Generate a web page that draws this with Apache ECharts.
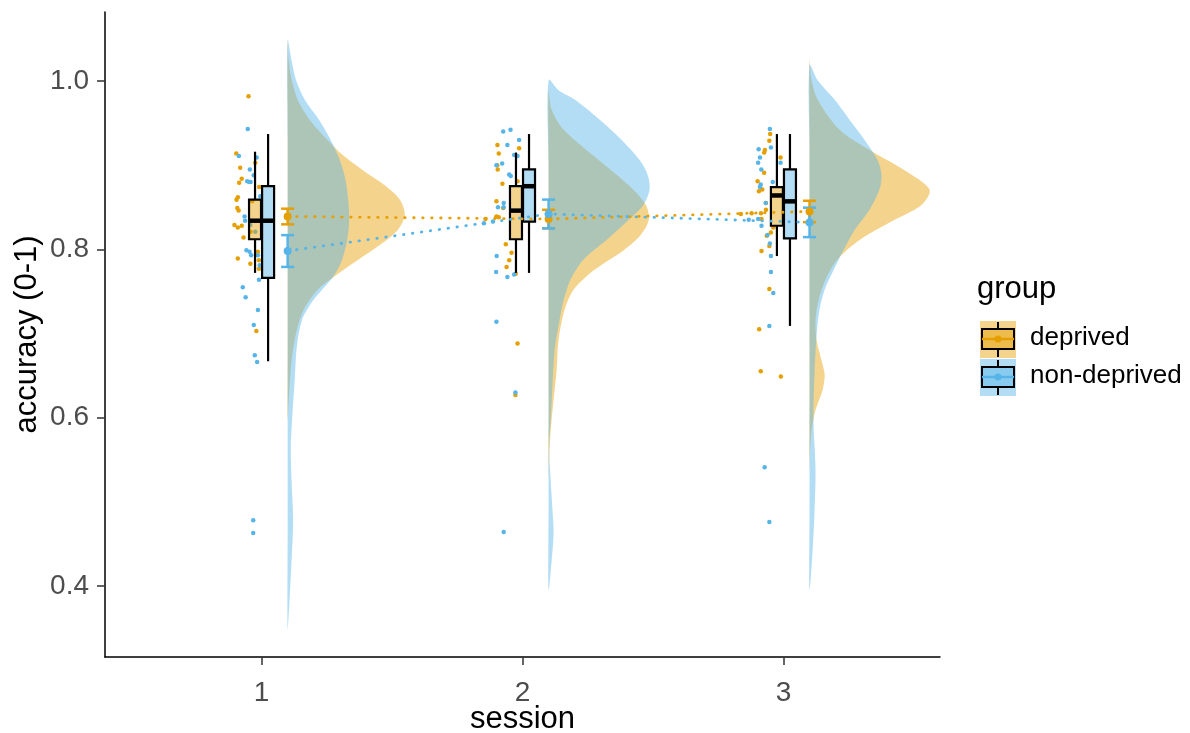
<!DOCTYPE html>
<html>
<head>
<meta charset="utf-8">
<script src="https://cdn.jsdelivr.net/npm/echarts@6/dist/echarts.min.js"></script>
<style>
html, body { margin: 0; padding: 0; background: #fff; }
#chart { width: 1190px; height: 733px; }
</style>
</head>
<body>
<div id="chart"></div>
<script>
const sessions = [1, 2, 3];
const groups = ['deprived', 'non-deprived'];
const groupColors = ['#E69F00', '#56B4E9'];
const groupFills = ['rgba(230,159,0,0.45)', 'rgba(86,180,233,0.45)'];
const yTicks = [0.4, 0.6, 0.8, 1.0];
const xTicks = [1, 2, 3];

// raw points: [jitter offset from session, accuracy]
const deprivedS1 = [[-0.050,0.982],[-0.097,0.914],[-0.082,0.897],[-0.024,0.903],[-0.086,0.879],[-0.076,0.884],[-0.009,0.874],[-0.091,0.862],[-0.096,0.859],[-0.093,0.849],[-0.088,0.846],[-0.036,0.857],[-0.104,0.829],[-0.091,0.826],[-0.076,0.828],[-0.069,0.814],[-0.042,0.821],[-0.091,0.789],[-0.043,0.783],[-0.010,0.787],[-0.010,0.777],[-0.014,0.797],[-0.020,0.703]];
const deprivedS2 = [[-0.096,0.924],[-0.013,0.920],[-0.091,0.914],[-0.097,0.900],[-0.095,0.895],[-0.077,0.878],[-0.019,0.881],[-0.100,0.857],[-0.074,0.849],[-0.100,0.839],[-0.091,0.838],[-0.142,0.836],[-0.064,0.806],[-0.042,0.796],[-0.051,0.787],[-0.061,0.779],[-0.026,0.771],[-0.019,0.688],[-0.027,0.627]];
const deprivedS3 = [[-0.051,0.937],[-0.054,0.929],[-0.071,0.918],[-0.074,0.915],[-0.011,0.909],[-0.074,0.891],[-0.099,0.881],[-0.081,0.871],[-0.094,0.869],[-0.067,0.855],[-0.067,0.847],[-0.122,0.843],[-0.163,0.842],[-0.086,0.843],[-0.084,0.836],[-0.039,0.826],[-0.048,0.820],[-0.064,0.816],[-0.054,0.804],[-0.084,0.798],[-0.054,0.753],[-0.093,0.705],[-0.087,0.655],[-0.010,0.649]];
const nonDeprivedS1 = [[-0.053,0.943],[-0.087,0.911],[-0.019,0.909],[-0.045,0.895],[-0.055,0.881],[-0.047,0.880],[-0.042,0.880],[-0.030,0.888],[-0.005,0.863],[-0.065,0.839],[-0.063,0.834],[-0.043,0.829],[-0.024,0.821],[-0.058,0.799],[-0.046,0.797],[-0.040,0.793],[-0.014,0.793],[-0.007,0.781],[-0.010,0.764],[-0.072,0.755],[-0.061,0.743],[-0.014,0.728],[-0.030,0.710],[-0.026,0.674],[-0.017,0.666],[-0.032,0.478],[-0.032,0.463]];
const nonDeprivedS2 = [[-0.074,0.940],[-0.046,0.942],[-0.058,0.924],[-0.013,0.930],[-0.032,0.912],[-0.019,0.911],[-0.100,0.900],[-0.078,0.902],[-0.051,0.889],[-0.045,0.887],[-0.072,0.855],[-0.094,0.850],[-0.072,0.850],[-0.148,0.831],[-0.113,0.833],[-0.099,0.792],[-0.101,0.773],[-0.058,0.767],[-0.032,0.770],[-0.100,0.714],[-0.027,0.630],[-0.072,0.464]];
const nonDeprivedS3 = [[-0.052,0.943],[-0.095,0.919],[-0.048,0.921],[-0.090,0.909],[-0.097,0.903],[-0.011,0.903],[-0.085,0.895],[-0.041,0.880],[-0.087,0.877],[-0.090,0.874],[-0.068,0.855],[-0.097,0.836],[-0.133,0.835],[-0.084,0.828],[-0.061,0.817],[-0.052,0.807],[-0.048,0.792],[-0.048,0.773],[-0.039,0.748],[-0.054,0.709],[-0.072,0.541],[-0.054,0.476]];

// boxplot stats per session: [lower whisker, q1, median, q3, upper whisker]
const deprivedBox = [[0.772,0.812,0.834,0.859,0.916],[0.772,0.812,0.846,0.875,0.915],[0.792,0.828,0.864,0.874,0.937]];
const nonDeprivedBox = [[0.667,0.766,0.834,0.875,0.937],[0.772,0.833,0.875,0.895,0.937],[0.709,0.813,0.857,0.895,0.937]];

// mean and standard error per session
const deprivedMean = [0.839, 0.836, 0.845];
const deprivedSE = [0.0093, 0.011, 0.0127];
const nonDeprivedMean = [0.798, 0.842, 0.832];
const nonDeprivedSE = [0.0189, 0.0171, 0.0175];

// half violin densities: [accuracy, half width in session units]
const deprivedDensS1 = [[1.049,0],[1.025,0.004],[1.002,0.015],[0.978,0.038],[0.954,0.084],[0.930,0.153],[0.912,0.211],[0.894,0.288],[0.876,0.372],[0.859,0.430],[0.841,0.449],[0.823,0.422],[0.805,0.353],[0.787,0.268],[0.769,0.184],[0.752,0.115],[0.728,0.061],[0.704,0.035],[0.668,0.015],[0.621,0.004],[0.597,0]];
const deprivedDensS2 = [[0.989,0],[0.966,0.012],[0.942,0.058],[0.906,0.192],[0.876,0.307],[0.853,0.372],[0.835,0.384],[0.817,0.353],[0.799,0.288],[0.775,0.173],[0.752,0.096],[0.728,0.061],[0.692,0.038],[0.657,0.031],[0.621,0.019],[0.585,0.008],[0.550,0.002],[0.526,0]];
const deprivedDensS3 = [[1.025,0],[1.001,0.008],[0.978,0.031],[0.942,0.115],[0.918,0.230],[0.894,0.364],[0.871,0.460],[0.853,0.430],[0.835,0.326],[0.811,0.192],[0.788,0.107],[0.764,0.061],[0.740,0.035],[0.716,0.023],[0.692,0.027],[0.668,0.046],[0.651,0.058],[0.633,0.050],[0.609,0.023],[0.585,0.008],[0.561,0.002],[0.537,0]];
const nonDeprivedDensS1 = [[1.049,0],[1.025,0.015],[1.002,0.031],[0.978,0.065],[0.954,0.120],[0.930,0.165],[0.906,0.200],[0.882,0.222],[0.859,0.232],[0.835,0.236],[0.811,0.228],[0.787,0.208],[0.768,0.176],[0.752,0.132],[0.736,0.090],[0.716,0.055],[0.684,0.035],[0.644,0.027],[0.597,0.017],[0.565,0.012],[0.525,0.015],[0.478,0.021],[0.431,0.015],[0.383,0.007],[0.348,0]];
const nonDeprivedDensS2 = [[1.001,0],[0.989,0.038],[0.978,0.100],[0.954,0.196],[0.930,0.280],[0.906,0.349],[0.888,0.380],[0.871,0.387],[0.853,0.364],[0.835,0.307],[0.811,0.222],[0.788,0.134],[0.764,0.084],[0.740,0.058],[0.716,0.042],[0.680,0.023],[0.639,0.015],[0.597,0.008],[0.565,0.002],[0.525,0.008],[0.490,0.015],[0.463,0.019],[0.431,0.012],[0.395,0]];
const nonDeprivedDensS3 = [[1.019,0],[1.001,0.031],[0.978,0.096],[0.954,0.153],[0.930,0.211],[0.906,0.261],[0.888,0.276],[0.871,0.268],[0.847,0.230],[0.823,0.173],[0.799,0.130],[0.775,0.092],[0.752,0.058],[0.728,0.038],[0.698,0.027],[0.651,0.019],[0.597,0.015],[0.538,0.023],[0.487,0.019],[0.443,0.012],[0.395,0]];

const pointsByGroup = [[deprivedS1, deprivedS2, deprivedS3], [nonDeprivedS1, nonDeprivedS2, nonDeprivedS3]];
const boxByGroup = [deprivedBox, nonDeprivedBox];
const meanByGroup = [deprivedMean, nonDeprivedMean];
const seByGroup = [deprivedSE, nonDeprivedSE];
const densByGroup = [[deprivedDensS1, deprivedDensS2, deprivedDensS3], [nonDeprivedDensS1, nonDeprivedDensS2, nonDeprivedDensS3]];

const nudge = 0.1;      // violins and means sit right of the session
const boxDodge = 0.025;
const boxWidth = 0.046;
const capWidth = 0.05;

const chart = echarts.init(document.getElementById('chart'));

function violinSeries(g) {
    return {
        type: 'custom',
        name: groups[g] + ' violin',
        z: 1,
        silent: true,
        data: sessions.map((s, i) => [s + nudge, densByGroup[g][i][0][0]]),
        encode: { x: 0, y: 1 },
        renderItem(params, api) {
            const k = params.dataIndex;
            const dens = densByGroup[g][k];
            const base = sessions[k] + nudge;
            const pts = dens.map(d => api.coord([base + d[1], d[0]]));
            const top = dens[0][0], bot = dens[dens.length - 1][0];
            for (let j = 1; j < 6; j++) {
                pts.push(api.coord([base, bot + (top - bot) * j / 6]));
            }
            return {
                type: 'polygon',
                shape: { points: pts, smooth: 0.3 },
                style: { fill: groupFills[g], stroke: null }
            };
        }
    };
}

function pointSeries(g) {
    let data = [];
    sessions.forEach((s, i) => {
        pointsByGroup[g][i].forEach(p => data.push([s + p[0], p[1]]));
    });
    return {
        type: 'scatter',
        name: groups[g] + ' points',
        z: 2,
        symbolSize: 4.5,
        itemStyle: { color: groupColors[g], opacity: 1 },
        data: data
    };
}

function boxSeries(g) {
    const off = g === 0 ? -boxDodge : boxDodge;
    return {
        type: 'custom',
        name: groups[g] + ' box',
        z: 3,
        data: sessions.map((s, i) => [s + off].concat(boxByGroup[g][i])),
        encode: { x: 0, y: [1, 2, 3, 4, 5] },
        renderItem(params, api) {
            const x = api.value(0);
            const lo = api.coord([x, api.value(1)]);
            const q1 = api.coord([x, api.value(2)]);
            const med = api.coord([x, api.value(3)]);
            const q3 = api.coord([x, api.value(4)]);
            const hi = api.coord([x, api.value(5)]);
            const hw = api.size([boxWidth, 0])[0] / 2;
            const line = { stroke: '#000', lineWidth: 2.2 };
            return {
                type: 'group',
                children: [
                    { type: 'line', shape: { x1: lo[0], y1: lo[1], x2: q1[0], y2: q1[1] }, style: line },
                    { type: 'line', shape: { x1: q3[0], y1: q3[1], x2: hi[0], y2: hi[1] }, style: line },
                    { type: 'rect', shape: { x: q3[0] - hw, y: q3[1], width: hw * 2, height: q1[1] - q3[1] },
                      style: { fill: groupFills[g], stroke: '#000', lineWidth: 2.2 } },
                    { type: 'line', shape: { x1: med[0] - hw, y1: med[1], x2: med[0] + hw, y2: med[1] },
                      style: { stroke: '#000', lineWidth: 4.5 } }
                ]
            };
        }
    };
}

function errorSeries(g) {
    return {
        type: 'custom',
        name: groups[g] + ' se',
        z: 5,
        data: sessions.map((s, i) => [s + nudge, meanByGroup[g][i] - seByGroup[g][i], meanByGroup[g][i] + seByGroup[g][i]]),
        encode: { x: 0, y: [1, 2] },
        renderItem(params, api) {
            const x = api.value(0);
            const lo = api.coord([x, api.value(1)]);
            const hi = api.coord([x, api.value(2)]);
            const hw = api.size([capWidth, 0])[0] / 2;
            const st = { stroke: groupColors[g], lineWidth: 2.5 };
            return {
                type: 'group',
                children: [
                    { type: 'line', shape: { x1: lo[0], y1: lo[1], x2: hi[0], y2: hi[1] }, style: st },
                    { type: 'line', shape: { x1: lo[0] - hw, y1: lo[1], x2: lo[0] + hw, y2: lo[1] }, style: st },
                    { type: 'line', shape: { x1: hi[0] - hw, y1: hi[1], x2: hi[0] + hw, y2: hi[1] }, style: st }
                ]
            };
        }
    };
}

function meanLineSeries(g) {
    return {
        type: 'line',
        name: groups[g] + ' mean',
        z: 6,
        data: sessions.map((s, i) => [s + nudge, meanByGroup[g][i]]),
        symbol: 'circle',
        symbolSize: 8,
        showSymbol: true,
        itemStyle: { color: groupColors[g] },
        lineStyle: { color: groupColors[g], width: 2.8, type: [0.5, 8.5], cap: 'round' }
    };
}

// legend drawn as boxplot glyphs like ggplot's key
function legendKey(g, top) {
    const cx = 998;
    const blk = { stroke: '#000', lineWidth: 2 };
    return [
        { type: 'rect', shape: { x: 980, y: top, width: 36, height: 37 }, style: { fill: groupFills[g] } },
        { type: 'line', shape: { x1: cx, y1: top + 1, x2: cx, y2: top + 8 }, style: blk },
        { type: 'line', shape: { x1: cx, y1: top + 28, x2: cx, y2: top + 36 }, style: blk },
        { type: 'rect', shape: { x: 982, y: top + 8, width: 32, height: 20 }, style: { fill: groupFills[g], stroke: '#000', lineWidth: 2 } },
        { type: 'line', shape: { x1: 982, y1: top + 18, x2: 1014, y2: top + 18 }, style: { stroke: groupColors[g], lineWidth: 2.5 } },
        { type: 'circle', shape: { cx: cx, cy: top + 18, r: 3.5 }, style: { fill: groupColors[g] } }
    ];
}

let series = [];
[0, 1].forEach(g => series.push(violinSeries(g)));
[0, 1].forEach(g => series.push(pointSeries(g)));
[0, 1].forEach(g => series.push(boxSeries(g)));
[0, 1].forEach(g => series.push(meanLineSeries(g)));
[0, 1].forEach(g => series.push(errorSeries(g)));

const font = 'Liberation Sans, Arial, Helvetica, sans-serif';

let option = {
    animation: false,
    backgroundColor: '#fff',
    grid: { left: 105, right: 250, top: 12, bottom: 76, outerBoundsMode: 'none' },
    xAxis: {
        type: 'value',
        min: 0.4,
        max: 3.6,
        name: 'session',
        nameLocation: 'middle',
        nameGap: 47,
        nameMoveOverlap: false,
        nameTextStyle: { fontFamily: font, fontSize: 31, color: '#000' },
        axisLine: { show: true, onZero: false, lineStyle: { color: '#000', width: 1.5 } },
        axisTick: { show: true, length: 8, customValues: xTicks, lineStyle: { color: '#333', width: 1.5 } },
        axisLabel: { customValues: xTicks, margin: 22, fontFamily: font, fontSize: 28, color: '#4D4D4D' },
        splitLine: { show: false }
    },
    yAxis: {
        type: 'value',
        min: 0.3156,
        max: 1.082,
        name: 'accuracy (0-1)',
        nameLocation: 'middle',
        nameRotate: 90,
        nameGap: 62,
        nameMoveOverlap: false,
        nameTextStyle: { fontFamily: font, fontSize: 31, color: '#000' },
        axisLine: { show: true, onZero: false, lineStyle: { color: '#000', width: 1.5 } },
        axisTick: { show: true, length: 8, customValues: yTicks, lineStyle: { color: '#333', width: 1.5 } },
        axisLabel: { customValues: yTicks, margin: 16, fontFamily: font, fontSize: 28, color: '#4D4D4D',
                     formatter: v => v.toFixed(1) },
        splitLine: { show: false }
    },
    graphic: [
        { type: 'text', left: 977, top: 274, style: { text: 'group', fontFamily: font, fontSize: 31, fill: '#000' } },
        { type: 'text', left: 1030, top: 325, style: { text: 'deprived', fontFamily: font, fontSize: 26, fill: '#000' } },
        { type: 'text', left: 1030, top: 363, style: { text: 'non-deprived', fontFamily: font, fontSize: 26, fill: '#000' } }
    ].concat(legendKey(0, 321), legendKey(1, 359)),
    series: series
};

chart.setOption(option);
</script>
</body>
</html>
